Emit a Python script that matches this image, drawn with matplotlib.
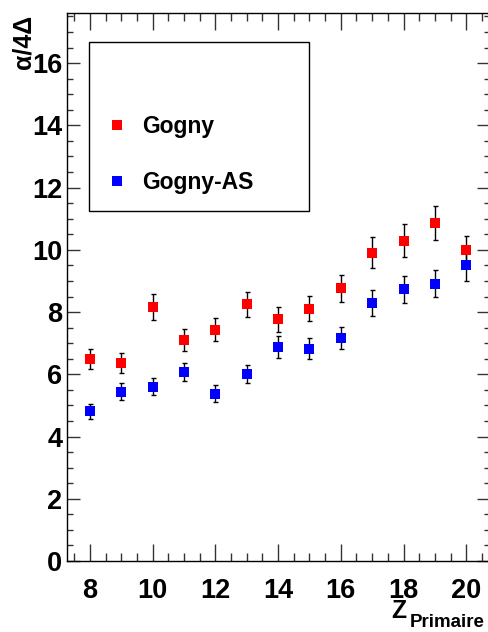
import numpy as np
import matplotlib
matplotlib.use("Agg")
import matplotlib.pyplot as plt
from matplotlib.lines import Line2D
from matplotlib.ticker import MultipleLocator

plt.rcParams['font.family'] = ['Liberation Sans', 'DejaVu Sans']

# data
z = [8, 9, 10, 11, 12, 13, 14, 15, 16, 17, 18, 19, 20]
gogny = [6.48, 6.36, 8.17, 7.10, 7.44, 8.25, 7.77, 8.11, 8.76, 9.91, 10.30, 10.87, 10.00]
gogny_err = [0.32, 0.31, 0.41, 0.35, 0.37, 0.40, 0.40, 0.41, 0.44, 0.50, 0.52, 0.55, 0.45]
gogny_as = [4.82, 5.44, 5.60, 6.06, 5.38, 6.00, 6.88, 6.82, 7.16, 8.29, 8.73, 8.91, 9.50]
gogny_as_err = [0.24, 0.27, 0.27, 0.29, 0.28, 0.29, 0.35, 0.34, 0.35, 0.41, 0.43, 0.44, 0.49]

fig = plt.figure(figsize=(4.88, 6.32), dpi=100)
ax = fig.add_axes([0.1363, 0.1123, 0.8672, 0.8666])

for vals, errs, col in [(gogny, gogny_err, "#ff0000"), (gogny_as, gogny_as_err, "#0000ff")]:
    ax.errorbar(z, vals, yerr=errs, fmt="none", ecolor="black", elinewidth=1,
                capsize=1.8, capthick=1, zorder=2)
    ax.plot(z, vals, "s", color=col, markersize=7.7, markeredgewidth=0, zorder=3)

ax.set_xlim(7.25, 20.75)
ax.set_ylim(0, 17.6)
ax.xaxis.set_major_locator(MultipleLocator(2))
ax.xaxis.set_minor_locator(MultipleLocator(0.5))
ax.yaxis.set_major_locator(MultipleLocator(2))
ax.yaxis.set_minor_locator(MultipleLocator(0.5))

ax.tick_params(which="both", direction="in", top=True, right=True, width=1, color="#333333")
ax.tick_params(axis="x", which="major", length=12, pad=12)
ax.tick_params(axis="x", which="minor", length=6)
ax.tick_params(axis="y", which="major", length=9.5, pad=3)
ax.tick_params(axis="y", which="minor", length=4.5)
for lab in ax.get_xticklabels() + ax.get_yticklabels():
    lab.set_fontsize(19.5)
    lab.set_fontweight("bold")
for s in ax.spines.values():
    s.set_linewidth(1)

# legend with an empty first row, like the ROOT box
h_blank = Line2D([], [], linestyle="none", marker="none")
h_red = Line2D([], [], linestyle="none", marker="s", color="#ff0000", markersize=7.7, markeredgewidth=0)
h_blue = Line2D([], [], linestyle="none", marker="s", color="#0000ff", markersize=7.7, markeredgewidth=0)
leg = ax.legend([h_blank, h_red, h_blue], [" ", "Gogny", "Gogny-AS"],
                loc="upper left", bbox_to_anchor=(0.1824, 0.934, 0.4508, 0),
                bbox_transform=fig.transFigure, mode="expand", borderaxespad=0,
                prop={"size": 16.5, "weight": "bold"}, handlelength=0.98,
                handletextpad=0.62, borderpad=0.73, labelspacing=1.45,
                fancybox=False, framealpha=1, edgecolor="black")
leg.get_frame().set_linewidth(1)

fig.text(24 / 488, 1 - 15 / 632, "α/4Δ", rotation=90, ha="center", va="top",
         fontsize=18, fontweight="bold")
fig.text(391 / 488, 1 - 618 / 632, "Z", fontsize=17.7, fontweight="bold", va="baseline")
fig.text(410 / 488, 1 - 627 / 632, "Primaire", fontsize=13.5, fontweight="bold", va="baseline")

fig.savefig("out.png", dpi=100)
